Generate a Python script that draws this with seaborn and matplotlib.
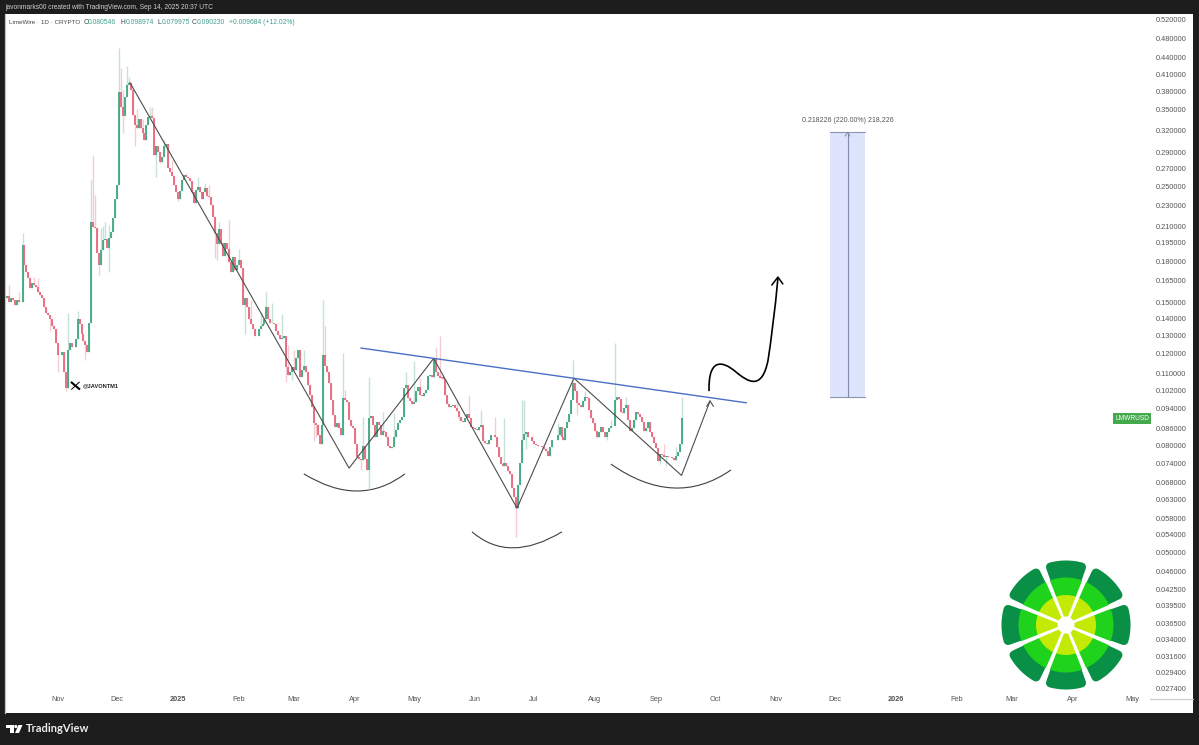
import numpy as np
import pandas as pd
import matplotlib
matplotlib.use('Agg')
import matplotlib.pyplot as plt
from matplotlib.path import Path
from matplotlib.patches import PathPatch, Circle, Rectangle, Polygon
import seaborn as sns

# daily closes, LMWR/USD, first candle = 6 Oct 2024, last = 14 Sep 2025
closes = [
    .1544, .1501, .1529, .1516, .1481, .1516, .1501, .1501, .1934, .1770, .1713, .1671, .1600, .1635, .1620, .1608,
    .1571, .1550, .1529, .1468, .1435, .1422, .1397, .1355, .1337, .1253, .1191, .1191, .1206, .1105,
    .1031, .1218, .1258, .1233, .1233, .1280, .1397, .1367, .1308, .1269,
    .1244, .1206, .1373, .2142, .2091, .2086, .1866, .1770, .1891, .1979,
    .1988, .1908, .1997, .2046, .2180, .2364, .2519, .3792, .3539, .3403,
    .3711, .3915, .3949, .3825, .3424, .3276, .3234, .3359, .3234, .3165,
    .3067, .3276, .3388, .3403, .3373, .2876, .2983, .2909, .2784, .2846,
    .2983, .3010, .2712, .2664, .2618, .2519, .2445, .2364, .2455, .2573,
    .2630, .2607, .2596, .2562, .2445, .2325, .2466, .2497, .2445, .2364,
    .2445, .2486, .2394, .2384, .2304, .2186, .2037, .1941, .2073, .1952,
    .1841, .1952, .1899, .1793, .1713, .1833, .1731, .1770, .1809, .1746,
    .1481, .1529, .1468, .1397, .1367, .1337, .1297, .1297, .1337, .1353,
    .1367, .1397, .1468, .1397, .1373, .1373, .1367, .1326, .1302, .1280,
    .1286, .1297, .1128, .1091, .1105, .1128, .1114, .1173, .1218, .1081,
    .1114, .1137, .1105, .1044, .0999, .0948, .0884, .0875, .0839, .0804,
    .0875, .1191, .1137, .1105, .1053, .0977, .0916, .0868, .0884, .0864,
    .0839, .0986, .0977, .0969, .0896, .0872, .0864, .0804, .0761, .0752,
    .0749, .0797, .0755, .0719, .0904, .0912, .0875, .0829, .0888, .0875,
    .0839, .0853, .0850, .0829, .0797, .0790, .0794, .0832, .0857, .0884,
    .0896, .0908, .1031, .1044, .0986, .0973, .0960, .0969, .1016, .1036,
    .0999, .0995, .1007, .1023, .1086, .1091, .1081, .1173, .1105, .1086,
    .1076, .1081, .1071, .0999, .0960, .0948, .0952, .0956, .0944, .0932,
    .0908, .0892, .0888, .0904, .0920, .0904, .0868, .0864, .0860, .0857,
    .0868, .0875, .0814, .0807, .0804, .0821, .0839, .0836, .0832, .0794,
    .0761, .0737, .0731, .0740, .0731, .0716, .0704, .0664, .0637, .0607,
    .0672, .0740, .0821, .0843, .0847, .0832, .0829, .0814, .0804, .0800,
    .0797, .0797, .0794, .0786, .0780, .0764, .0794, .0821, .0818, .0821,
    .0839, .0868, .0832, .0821, .0864, .0888, .0920, .0977, .1053, .1016,
    .0965, .0956, .0948, .0973, .0991, .0986, .0936, .0904, .0884, .0853,
    .0832, .0850, .0868, .0850, .0832, .0847, .0864, .0872, .0872, .0977,
    .0991, .0982, .0928, .0924, .0944, .0956, .0896, .0853, .0864, .0896,
    .0928, .0920, .0908, .0888, .0853, .0864, .0888, .0850, .0829, .0807,
    .0790, .0746, .0770, .0767, .0761, .0764, .0761, .0761, .0758, .0749,
    .0764, .0777, .080546, .090230,
]
first_open = .1530

# visible upper and lower wicks: candle number, price
upper_idx = [1, 6, 8, 14, 16, 31, 36, 43, 44, 45, 48, 49, 50, 52, 57, 58, 59, 61, 62, 66, 69, 73, 74, 80, 84, 91, 97,
             101, 103, 108, 113, 118, 124, 129, 132, 135, 140, 143, 146, 151, 161, 162, 171, 172, 181, 184, 191, 197,
             203, 207, 210, 218, 220, 229, 235, 241, 248, 253, 262, 263, 280, 288, 294, 307, 309, 315, 334, 340, 343]
upper_val = [.162, .1571, .2037, .1678, .1671, .1435, .1448, .2573, .2876, .2413, .2086, .2104, .2142, .2114, .4595,
             .421, .3825, .425, .4055, .3516, .3359, .354, .354, .3067, .2806, .2651, .2607, .2541, .2519, .2142,
             .2157, .19, .1516, .1435, .1571, .1494, .1428, .1244, .1218, .1218, .1516, .1355, .12, .1023, .0908,
             .1081, .0928, .0924, .1105, .1161, .1076, .1228, .1297, .0977, .0999, .0936, .0908, .0904, .0977, .0977,
             .0884, .1167, .1016, .0896, .1258, .0991, .0804, .0794, .098974]
lower_idx = [22, 26, 30, 40, 47, 52, 59, 65, 76, 78, 87, 106, 107, 121, 142, 145, 156, 157, 180, 184, 230, 259, 264,
             290, 300, 305, 332, 335, 343]
lower_val = [.1326, .1105, .1016, .1167, .1695, .1713, .3165, .2983, .2607, .2772, .2343, .1825, .1809, .1308, .1058,
             .1067, .0816, .0832, .0719, .0659, .0893, .0535, .0786, .0916, .0825, .0818, .0737, .073, .079975]

# day numbers below count from 1 Nov 2024
first_day = -26
month_days = [0, 30, 61, 92, 120, 151, 181, 212, 242, 273, 304, 334, 365, 395, 426, 457, 485, 516, 546]
month_labels = ['Nov', 'Dec', '2025', 'Feb', 'Mar', 'Apr', 'May', 'Jun', 'Jul', 'Aug', 'Sep', 'Oct', 'Nov', 'Dec',
                '2026', 'Feb', 'Mar', 'Apr', 'May']
price_ticks = [.52, .48, .44, .41, .38, .35, .32, .29, .27, .25, .23, .21, .195, .18, .165, .15, .14, .13, .12, .11,
               .102, .094, .086, .08, .074, .068, .063, .058, .054, .05, .046, .0425, .0395, .0365, .034, .0316,
               .0294, .0274]

# drawings on the chart
zigzag_days = [36.6, 148, 191, 233.4, 262.3, 317, 331.5]
zigzag_prices = [.395, .0724, .1173, .0607, .1076, .0701, .0973]
neck_days = [154, 350]
neck_prices = [.1228, .0965]
arc_days = [[125, 153.3, 176.4], [210.5, 229.3, 256.2], [281.1, 313.7, 342.1]]
arc_prices = [[.0706, .0607, .0706], [.0547, .0475, .0547], [.0737, .0605, .0718]]
curve_days = [331, 330.5, 337.6, 344.7, 350.8, 357.9, 361, 362.5, 364.5, 366]
curve_prices = [.1016, .1173, .1165, .1105, .1058, .1016, .1165, .1269, .1448, .1671]
target_days = [392.5, 410.3]
target_prices = [.0992, .3174]

closes = np.array(closes)
opens = np.r_[first_open, closes[:-1]]
highs = np.maximum(opens, closes)
lows = np.minimum(opens, closes)
highs[upper_idx] = np.maximum(highs[upper_idx], upper_val)
lows[lower_idx] = np.minimum(lows[lower_idx], lower_val)
days = first_day + np.arange(len(closes))
rising = np.where(closes >= opens, 'up', 'down')

df = pd.DataFrame({'day': days, 'open': opens, 'high': highs, 'low': lows, 'close': closes, 'dir': rising})
wicks = df.melt(id_vars=['day', 'dir'], value_vars=['low', 'high'], value_name='price')
bodies = df.melt(id_vars=['day', 'dir'], value_vars=['open', 'close'], value_name='price')

sns.set_theme(style='white')
plt.rcParams['font.family'] = ['Liberation Sans', 'DejaVu Sans']

W, H = 1199, 745
fig = plt.figure(figsize=(W / 100, H / 100), dpi=100, facecolor='#1d1d1d')
ax = fig.add_axes([5 / W, (H - 713) / H, (1193 - 5) / W, (713 - 14) / H])
ax.set_yscale('log')

sns.lineplot(data=wicks, x='day', y='price', units='day', estimator=None, hue='dir', sort=False,
             palette={'up': '#c6e2d8', 'down': '#f4ccd2'}, lw=1.0, legend=False, ax=ax, solid_capstyle='butt')
sns.lineplot(data=bodies, x='day', y='price', units='day', estimator=None, hue='dir', sort=False,
             palette={'up': '#3fa67f', 'down': '#e8677b'}, lw=1.3, legend=False, ax=ax, solid_capstyle='butt')

# pattern lines
sns.lineplot(x=zigzag_days, y=zigzag_prices, sort=False, estimator=None, color='#4d4d4d', lw=0.8, ax=ax)
ax.plot([329.8, 331.5, 333.2], [.0950, .0973, .0950], color='#4d4d4d', lw=0.8)
sns.lineplot(x=neck_days, y=neck_prices, sort=False, estimator=None, color='#4a6fc6', lw=1.0, ax=ax)
for ad, ap in zip(arc_days, arc_prices):
    arc = Path(list(zip(ad, ap)), [Path.MOVETO, Path.CURVE3, Path.CURVE3])
    ax.add_patch(PathPatch(arc, fc='none', ec='#3f3f3f', lw=0.8))
curve = Path(list(zip(curve_days, curve_prices)), [Path.MOVETO] + [Path.CURVE4] * 9)
ax.add_patch(PathPatch(curve, fc='none', ec='black', lw=1.2))
ax.plot([362.9, 366, 368.5], [.162, .1678, .1628], color='black', lw=1.1)

# price projection box
ax.fill_between(target_days, target_prices[0], target_prices[1], color='#dde4fb', lw=0)
ax.plot(target_days, [target_prices[0]] * 2, color='#8c95ad', lw=0.8)
ax.plot(target_days, [target_prices[1]] * 2, color='#8c95ad', lw=0.8)
mid = sum(target_days) / 2
ax.plot([mid, mid], target_prices, color='#7f8cab', lw=0.8)
ax.plot([mid - 1.2, mid, mid + 1.2], [.3120, .3174, .3120], color='#7f8cab', lw=0.7)
ax.text(mid, .334, '0.218226 (220.00%) 218,226', ha='center', va='center', fontsize=5.05, color='#555555')

# watermark: x mark and handle
ax.plot([6.6, 11.2], [.1058, .1023], color='black', lw=1.5, solid_capstyle='butt')
ax.plot([11.0, 6.8], [.1058, .1023], color='black', lw=0.7, solid_capstyle='butt')
ax.text(12.8, .1040, '@JAVONTM1', ha='left', va='center', fontsize=4.1, fontweight='bold', color='#222222')

ax.text(546, .0900, 'LMWRUSD', ha='center', va='center', fontsize=4.8, color='white',
        bbox=dict(boxstyle='square,pad=0.3', fc='#43a94b', ec='none'))

ax.set_xlim(-26.9, 577)
ax.set_ylim(.02465, .5339)
ax.set_xlabel('')
ax.set_ylabel('')
ax.set_xticks(month_days)
ax.set_xticklabels(month_labels)
ax.yaxis.tick_right()
ax.set_yticks(price_ticks)
ax.set_yticklabels([f'{v:.6f}' for v in price_ticks])
ax.minorticks_off()
ax.tick_params(axis='x', length=0, pad=-12.5, labelsize=5.3, labelcolor='#555555')
ax.tick_params(axis='y', length=0, pad=-27, labelsize=5.3, labelcolor='#555555')
for lab in ax.get_xticklabels():
    if lab.get_text() in ('2025', '2026'):
        lab.set_fontweight('bold')
sns.despine(ax=ax, right=True, bottom=True)
for s in ('left', 'top'):
    ax.spines[s].set_color('#c4c4c4')
    ax.spines[s].set_linewidth(0.9)

# overlay in figure pixels: header, footer, logos
ov = fig.add_axes([0, 0, 1, 1], facecolor='none')
ov.set_xlim(0, W)
ov.set_ylim(H, 0)
ov.axis('off')
ov.plot([1150, 1193], [699, 699], color='#cfcfcf', lw=0.9)

ov.text(5, 7.5, 'javonmarks00 created with TradingView.com, Sep 14, 2025 20:37 UTC', fontsize=4.8,
        color='#cfcfcf', va='center')
ink = '#454545'
teal = '#3f9f8e'
ov.text(9.3, 22.5, 'LimeWire · 1D · CRYPTO', fontsize=4.5, color=ink, va='center')
for x, txt, col in [(83.5, 'O', ink), (88, '0.080546', teal), (120.5, 'H', ink),
                    (126, '0.098974', teal), (157, 'L', ink), (161.5, '0.079975', teal), (192, 'C', ink),
                    (197, '0.090230', teal), (229, '+0.009684 (+12.02%)', teal)]:
    ov.text(x, 22.5, txt, fontsize=4.9, color=col, va='center')

# tradingview mark and name
ov.add_patch(Rectangle((6, 725), 7.5, 3, fc='white', ec='none'))
ov.add_patch(Rectangle((10, 725), 3.5, 8, fc='white', ec='none'))
ov.add_patch(Circle((15.8, 726.5), 1.6, fc='white', ec='none'))
ov.add_patch(Polygon([(18.5, 725), (22.5, 725), (19, 733), (15, 733)], fc='white', ec='none'))
ov.text(25.5, 729, 'TradingView', fontsize=8.0, color='#ececec', va='center', family=['Lato', 'DejaVu Sans'],
        fontweight='bold')

# limewire logo
cx, cy = 1066, 625
for k in range(8):
    a0 = np.deg2rad(45 * k)
    aa = a0 + np.deg2rad(np.linspace(-15, 15, 15))
    pts = [(cx + 14 * np.cos(a0), cy + 14 * np.sin(a0))] + [(cx + 60 * np.cos(t), cy + 60 * np.sin(t)) for t in aa]
    ov.add_patch(Polygon(pts, closed=True, fc='#0a8f47', ec='#0a8f47', lw=6.5, joinstyle='round'))
ov.add_patch(Circle((cx, cy), 47.5, fc='#1fd31c', ec='none'))
ov.add_patch(Circle((cx, cy), 30, fc='#c2ea05', ec='none'))
for k in range(8):
    a = np.deg2rad(22.5 + 45 * k)
    n = np.array([-np.sin(a), np.cos(a)])
    d = np.array([np.cos(a), np.sin(a)])
    c = np.array([cx, cy])
    ov.add_patch(Polygon([c + 6 * d - 1.3 * n, c + 70 * d - 2.6 * n, c + 70 * d + 2.6 * n, c + 6 * d + 1.3 * n],
                         fc='white', ec='none'))
ov.add_patch(Circle((cx, cy), 8.5, fc='white', ec='none'))

fig.savefig('out.png', dpi=100, facecolor=fig.get_facecolor())
